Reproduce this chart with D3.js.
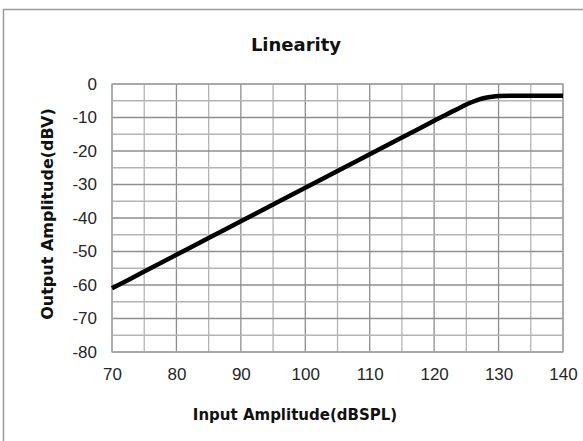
<!DOCTYPE html>
<html>
<head>
<meta charset="utf-8">
<script src="https://cdn.jsdelivr.net/npm/d3@7"></script>
<style>
  body { margin: 0; background: #fff; }
  svg { display: block; }
</style>
</head>
<body>
<div id="chart"></div>
<script>
const inputDb = [70, 75, 80, 85, 90, 95, 100, 105, 110, 115, 120, 122, 124, 125, 126, 127, 128, 129, 130, 132, 135, 140];
const outputDb = [-61, -56, -51, -46, -41, -36, -31, -26, -21, -16, -11, -9, -7.1, -6.1, -5.3, -4.6, -4.1, -3.8, -3.6, -3.5, -3.5, -3.5];
const xTicks = [70, 80, 90, 100, 110, 120, 130, 140];
const yTicks = [0, -10, -20, -30, -40, -50, -60, -70, -80];
const titleText = 'Linearity';
const xLabel = 'Input Amplitude(dBSPL)';
const yLabel = 'Output Amplitude(dBV)';

const width = 583, height = 441;
const margin = { top: 84, right: 20, bottom: 89, left: 112 };

const svg = d3.select('#chart')
    .append('svg')
    .attr('width', width)
    .attr('height', height);

// outer frame
svg.append('rect')
    .attr('x', 3.5).attr('y', 9.5)
    .attr('width', 620).attr('height', 460)
    .attr('fill', 'none')
    .attr('stroke', '#9a9a9a')
    .attr('stroke-width', 1.5);

let x = d3.scaleLinear()
    .domain([70, 140])
    .range([margin.left, width - margin.right]);
let y = d3.scaleLinear()
    .domain([-80, 0])
    .range([height - margin.bottom, margin.top]);

const grid = svg.append('g');
// grid every 5, the 10s a bit darker
grid.selectAll('line.vx')
    .data(d3.range(70, 141, 5))
    .enter()
    .append('line')
    .attr('x1', d => x(d)).attr('x2', d => x(d))
    .attr('y1', y(0)).attr('y2', y(-80))
    .attr('stroke', d => d % 10 === 0 ? '#8e8e8e' : '#b4b4b4')
    .attr('stroke-width', 1.3);
grid.selectAll('line.hy')
    .data(d3.range(-80, 1, 5))
    .enter()
    .append('line')
    .attr('x1', x(70)).attr('x2', x(140))
    .attr('y1', d => y(d)).attr('y2', d => y(d))
    .attr('stroke', d => d % 10 === 0 ? '#8e8e8e' : '#b4b4b4')
    .attr('stroke-width', 1.3);
grid.append('rect')
    .attr('x', x(70)).attr('y', y(0))
    .attr('width', x(140) - x(70)).attr('height', y(-80) - y(0))
    .attr('fill', 'none')
    .attr('stroke', '#a8a8a8')
    .attr('stroke-width', 1.3);

// axes, text only
const xAxis = svg.append('g')
    .attr('transform', `translate(0,${y(-80)})`)
    .call(d3.axisBottom(x).tickValues(xTicks).tickFormat(d => String(d)).tickSize(0).tickPadding(16));
const yAxis = svg.append('g')
    .attr('transform', `translate(${x(70)},0)`)
    .call(d3.axisLeft(y).tickValues(yTicks).tickFormat(d => String(d)).tickSize(0).tickPadding(15));
[xAxis, yAxis].forEach(a => {
    a.select('.domain').remove();
    a.attr('font-size', null).attr('font-family', null);
    a.selectAll('text')
        .attr('font-family', '"Liberation Sans", Arial, sans-serif')
        .attr('font-size', 17)
        .attr('fill', '#262626');
});

const line = d3.line()
    .x(d => x(d[0]))
    .y(d => y(d[1]))
    .curve(d3.curveMonotoneX);
svg.append('path')
    .datum(inputDb.map((v, i) => [v, outputDb[i]]))
    .attr('d', line)
    .attr('fill', 'none')
    .attr('stroke', '#000')
    .attr('stroke-width', 4.5)
    .attr('stroke-linecap', 'butt');

svg.append('text')
    .attr('x', 296).attr('y', 51)
    .attr('text-anchor', 'middle')
    .attr('font-family', '"DejaVu Sans", sans-serif')
    .attr('font-weight', 'bold')
    .attr('font-size', 18)
    .attr('fill', '#111')
    .text(titleText);
svg.append('text')
    .attr('x', 295).attr('y', 420)
    .attr('text-anchor', 'middle')
    .attr('font-family', '"DejaVu Sans", sans-serif')
    .attr('font-weight', 'bold')
    .attr('font-size', 15)
    .attr('fill', '#111')
    .text(xLabel);
svg.append('text')
    .attr('transform', 'translate(53,214) rotate(-90)')
    .attr('text-anchor', 'middle')
    .attr('font-family', '"DejaVu Sans", sans-serif')
    .attr('font-weight', 'bold')
    .attr('font-size', 16)
    .attr('fill', '#111')
    .text(yLabel);
</script>
</body>
</html>
